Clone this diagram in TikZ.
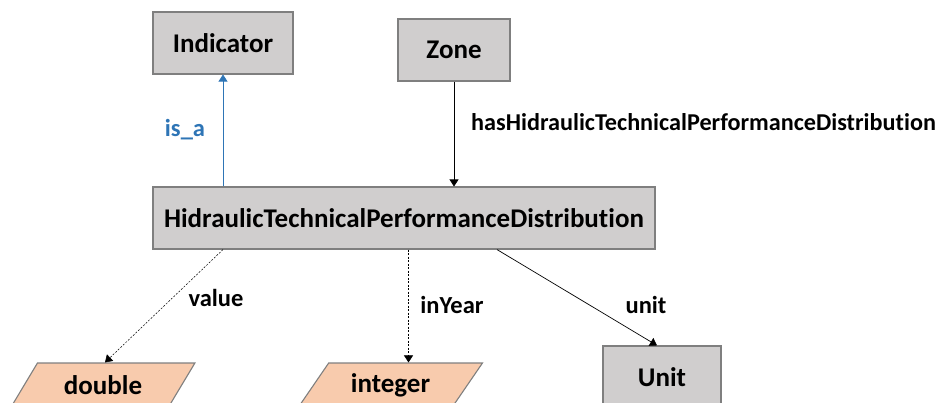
\documentclass[tikz,border=0pt]{standalone}
\usepackage{fontspec}
\setmainfont{Carlito}[Ligatures=NoCommon]
\usepackage{tikz}
\usetikzlibrary{arrows.meta,shapes.geometric}
\definecolor{box}{HTML}{D0CECE}
\definecolor{lit}{HTML}{F8CBAD}
\definecolor{edg}{HTML}{7F7F7F}
\definecolor{acc}{HTML}{2E75B6}
\definecolor{ink}{HTML}{000000}

\begin{document}
\begin{tikzpicture}[x=1pt,y=-1pt,font=\bfseries\fontsize{27}{32}\selectfont,text=ink,
  cls/.style={draw=edg,fill=box,line width=1.1pt,rectangle,minimum height=62pt,inner sep=0pt},
  dtype/.style={draw=edg,fill=lit,line width=1.1pt,trapezium,trapezium left angle=50.6,
    trapezium right angle=129.4,trapezium stretches=true,minimum width=184pt,minimum height=44pt,inner sep=0pt},
  rel/.style={font=\bfseries\fontsize{24.5}{29}\selectfont},
  tip/.style={-{Triangle[width=9pt,length=7pt]},line width=0.7pt}]
\useasboundingbox (0,0) rectangle (936,402);
% classes
\node[cls,minimum width=140pt] (ind) at (223,43) {Indicator};
\node[cls,minimum width=112pt] (zone) at (454,50) {Zone};
\node[cls,minimum width=502pt] (htpd) at (404,218) {HidraulicTechnicalPerformanceDistribution};
\node[cls,minimum width=118pt] (unit) at (662,377) {Unit};
% datatypes
\node[dtype] (dbl) at (103,385) {double};
\node[dtype] (intg) at (390.5,385) {integer};
% relations
\draw[tip,acc] (ind.south |- htpd.north) -- (ind.south);
\node[rel,text=acc] (isa) at (185,130) {is\_a};
\draw[tip] (zone.south) -- (zone.south |- htpd.north);
\node[rel,anchor=west,inner sep=0pt,font=\bfseries\fontsize{24.2}{29}\selectfont] (has) at (471,122) {hasHidraulicTechnicalPerformanceDistribution};
\draw[tip,dashed,dash pattern=on 2pt off 1.5pt,line width=0.5pt] (ind.south |- htpd.south) -- ([xshift=2pt]dbl.north);
\node[rel] (val) at (216,298) {value};
\draw[tip,dashed,dash pattern=on 2pt off 1.5pt,line width=0.5pt] ([xshift=18pt]intg.north |- htpd.south) -- ([xshift=18pt]intg.north);
\node[rel] (yr) at (452,305) {inYear};
\draw[tip] ([xshift=93pt]htpd.south) -- ([xshift=-5pt]unit.north);
\node[rel] (unt) at (646,305) {unit};
\end{tikzpicture}
\end{document}
